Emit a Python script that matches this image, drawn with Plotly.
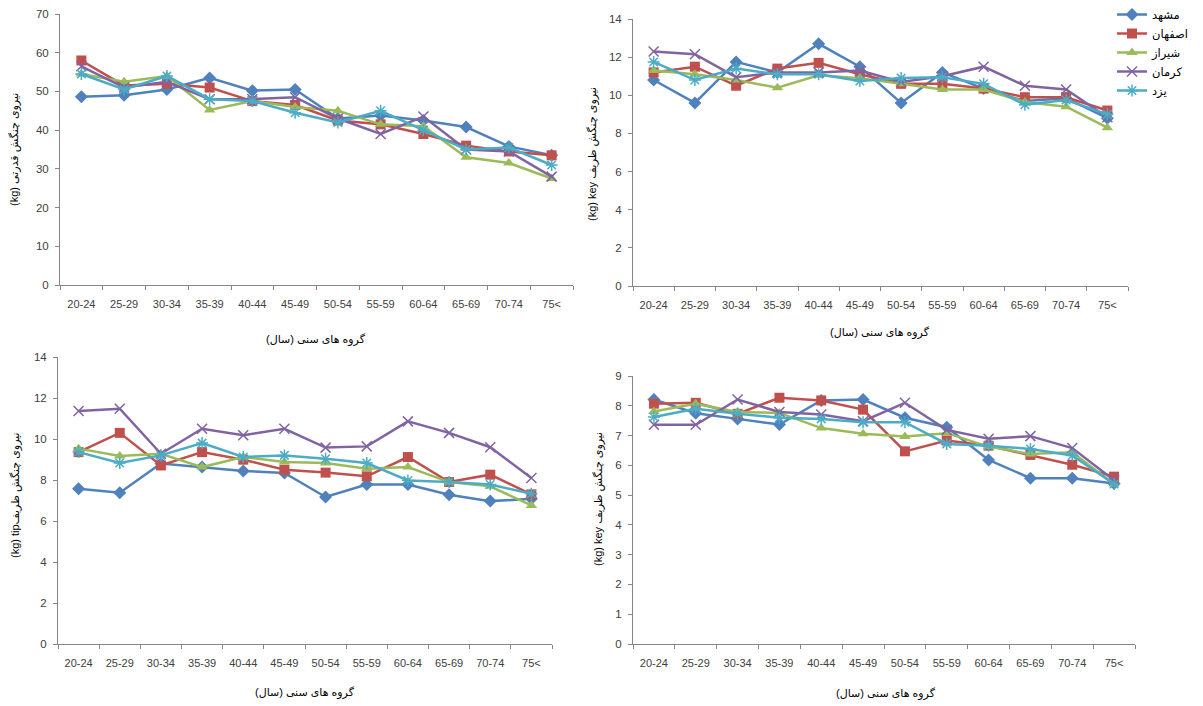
import plotly.graph_objects as go

W, H = 1203, 706

categories = ["20-24", "25-29", "30-34", "35-39", "40-44", "45-49",
              "50-54", "55-59", "60-64", "65-69", "70-74", "75<"]

cities = ["مشهد", "اصفهان", "شیراز", "کرمان", "یزد"]

# Panel 1: power grip (kg)
power = {
    "مشهد":   [48.6, 49.0, 50.5, 53.5, 50.2, 50.5, 43.0, 43.8, 42.5, 40.8, 35.8, 33.5],
    "اصفهان": [58.0, 51.5, 52.0, 51.0, 47.5, 46.5, 42.5, 41.5, 39.0, 36.0, 34.5, 33.5],
    "شیراز":  [54.5, 52.5, 54.0, 45.2, 47.5, 46.0, 45.0, 41.5, 41.0, 33.0, 31.5, 27.5],
    "کرمان":  [56.5, 51.0, 52.5, 48.0, 48.0, 48.5, 43.0, 39.0, 43.5, 35.0, 34.5, 28.0],
    "یزد":    [54.5, 50.5, 54.0, 48.0, 47.5, 44.5, 42.0, 45.0, 40.0, 35.0, 35.5, 31.0],
}

# Panel 2: key pinch (kg), top
key_top = {
    "مشهد":   [10.8, 9.6, 11.75, 11.2, 12.7, 11.5, 9.6, 11.2, 10.35, 9.7, 9.85, 8.8],
    "اصفهان": [11.2, 11.5, 10.5, 11.4, 11.7, 11.1, 10.6, 10.6, 10.35, 9.9, 9.9, 9.2],
    "شیراز":  [11.3, 11.1, 10.8, 10.4, 11.05, 10.9, 10.6, 10.3, 10.3, 9.65, 9.4, 8.3],
    "کرمان":  [12.3, 12.15, 10.95, 11.2, 11.2, 11.3, 10.7, 11.0, 11.5, 10.5, 10.3, 8.85],
    "یزد":    [11.75, 10.8, 11.4, 11.1, 11.1, 10.75, 10.9, 10.95, 10.6, 9.5, 9.75, 9.0],
}

# Panel 3: tip pinch (kg)
tip = {
    "مشهد":   [7.57, 7.38, 8.8, 8.63, 8.44, 8.34, 7.17, 7.78, 7.78, 7.28, 6.97, 7.08],
    "اصفهان": [9.36, 10.3, 8.71, 9.36, 8.99, 8.5, 8.36, 8.18, 9.12, 7.9, 8.26, 7.3],
    "شیراز":  [9.53, 9.17, 9.28, 8.63, 9.12, 8.88, 8.83, 8.55, 8.63, 7.9, 7.69, 6.76],
    "کرمان":  [11.37, 11.48, 9.28, 10.5, 10.18, 10.5, 9.58, 9.64, 10.86, 10.3, 9.6, 8.1],
    "یزد":    [9.36, 8.83, 9.2, 9.8, 9.12, 9.2, 9.04, 8.83, 7.98, 7.9, 7.78, 7.33],
}

# Panel 4: key pinch (kg), bottom
key_bottom = {
    "مشهد":   [8.21, 7.75, 7.56, 7.37, 8.18, 8.21, 7.6, 7.28, 6.18, 5.57, 5.57, 5.39],
    "اصفهان": [8.07, 8.1, 7.73, 8.27, 8.18, 7.87, 6.47, 6.83, 6.66, 6.35, 6.02, 5.62],
    "شیراز":  [7.81, 8.07, 7.79, 7.76, 7.25, 7.06, 6.97, 7.08, 6.63, 6.38, 6.44, 5.37],
    "کرمان":  [7.36, 7.36, 8.21, 7.79, 7.71, 7.48, 8.1, 7.19, 6.89, 6.98, 6.58, 5.5],
    "یزد":    [7.62, 7.9, 7.73, 7.6, 7.56, 7.45, 7.45, 6.72, 6.66, 6.55, 6.33, 5.37],
}

y_titles = ["(kg) نیروی چنگش قدرتی",
            "(kg) key نیروی چنگش ظریف",
            "(kg) tipنیروی چنگش ظریف",
            "(kg) key نیروی چنگش ظریف"]
x_title = "گروه های سنی (سال)"

colors = ["#4F81BD", "#C0504D", "#9BBB59", "#8064A2", "#4BACC6"]
symbols = ["diamond", "square", "triangle-up", "x-thin", "asterisk-open"]
msizes = [10, 10, 10, 10, 10]

panels = [power, key_top, tip, key_bottom]
yranges = [(0, 70, 10), (0, 14, 2), (0, 14, 2), (0, 9, 1)]
# pixel boxes: x0, x1, ytop, ybottom
boxes = [(60, 573, 14, 285), (633, 1128, 19, 286), (58, 552, 357, 644), (633, 1135, 376, 644)]
ytitle_pos = [(15, 150), (593, 154), (15, 495), (598, 499)]
xtitle_pos = [(316, 339), (880, 333), (305, 692), (886, 693)]

FONT = "Liberation Sans, DejaVu Sans, sans-serif"
AX = "#868686"

fig = go.Figure()
layout = dict(width=W, height=H, margin=dict(l=0, r=0, t=0, b=0, autoexpand=False),
              paper_bgcolor="white", plot_bgcolor="white",
              font=dict(family=FONT, color="#404040", size=11),
              showlegend=True, annotations=[])

for p, (data, yr, box) in enumerate(zip(panels, yranges, boxes)):
    sfx = "" if p == 0 else str(p + 1)
    for i, c in enumerate(cities):
        mk = dict(symbol=symbols[i], size=msizes[i], color=colors[i])
        if symbols[i] in ("x-thin", "asterisk-open"):
            mk["line"] = dict(color=colors[i], width=1.5)
        fig.add_trace(go.Scatter(
            x=categories, y=data[c], mode="lines+markers", name=c,
            line=dict(color=colors[i], width=2.5), marker=mk,
            xaxis="x" + sfx, yaxis="y" + sfx, showlegend=(p == 1)))
    x0, x1, yt, yb = box
    layout["xaxis" + sfx] = dict(
        domain=[x0 / W, x1 / W], anchor="y" + sfx, type="category",
        range=[-0.5, 11.5], tickson="boundaries", ticks="outside", ticklen=4,
        tickcolor=AX, showline=True, linecolor=AX, linewidth=1,
        showgrid=False, zeroline=False, ticklabelstandoff=9, tickangle=0,
        automargin=False, tickfont=dict(size=11, color="#404040"))
    layout["yaxis" + sfx] = dict(
        domain=[1 - yb / H, 1 - yt / H], anchor="x" + sfx,
        range=[yr[0], yr[1]], dtick=yr[2], ticks="outside", ticklen=4,
        tickcolor=AX, showline=True, linecolor=AX, linewidth=1,
        showgrid=False, zeroline=False, ticklabelstandoff=4, automargin=False,
        tickfont=dict(size=11.5, color="#404040"))
    tx, ty = ytitle_pos[p]
    layout["annotations"].append(dict(
        x=tx / W, y=1 - ty / H, xref="paper", yref="paper", text=y_titles[p],
        textangle=-90, showarrow=False, xanchor="center", yanchor="middle",
        font=dict(size=11, color="#000000", family=FONT)))
    ax, ay = xtitle_pos[p]
    layout["annotations"].append(dict(
        x=ax / W, y=1 - ay / H, xref="paper", yref="paper", text=x_title,
        showarrow=False, xanchor="center", yanchor="middle",
        font=dict(size=11, color="#000000", family=FONT)))

layout["legend"] = dict(x=1112 / W, y=1.0, xanchor="left", yanchor="top",
                        bgcolor="rgba(0,0,0,0)", font=dict(size=11.5, color="#000000"),
                        tracegroupgap=0)
fig.update_layout(**layout)
fig.write_html("out.html", config={"displayModeBar": False},
               post_script="document.body.style.margin='0px';"
                           "document.body.style.overflow='hidden';")
